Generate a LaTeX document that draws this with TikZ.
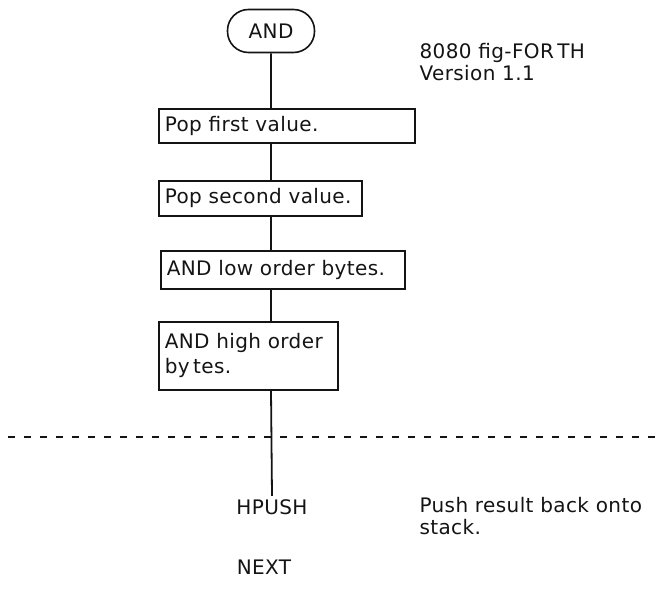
\documentclass[tikz,border=0pt]{standalone}
\usepackage{fontspec}
\setmainfont{DejaVu Sans}[LetterSpace=2]
\definecolor{chartInk}{RGB}{20,20,20}
\tikzset{
  stepbox/.style={draw=chartInk,line width=1.6pt,anchor=north west,align=left,
    inner xsep=6pt,inner ysep=0pt,text=chartInk,font=\fontsize{20}{25}\selectfont},
  terminal/.style={draw=chartInk,line width=1.6pt,rounded corners=21pt,
    minimum width=87pt,minimum height=43pt,text=chartInk,font=\fontsize{20}{25}\selectfont},
  label/.style={text=chartInk,font=\fontsize{20}{22}\selectfont},
  flow/.style={draw=chartInk,line width=1.8pt}
}
\begin{document}
\begin{tikzpicture}[x=1pt,y=-1pt]
  \useasboundingbox (0,0) rectangle (660,588);
  % entry
  \node[terminal] (and) at (271,31) {AND};
  \node[label,anchor=west,align=left] (title) at (416,62) {8080 fig-FOR\,TH\\Version 1.1};
  % steps
  \node[stepbox,text width=244pt,minimum height=34pt] (first) at (158,108) {Pop first value.};
  \node[stepbox,text width=191pt,minimum height=35pt] (second) at (158,180) {Pop second value.};
  \node[stepbox,text width=232pt,minimum height=38pt] (low) at (160,250) {AND low order bytes.};
  \node[stepbox,text width=167pt,minimum height=68pt] (high) at (158,321) {AND high order\\by\,tes.};
  % exit
  \node[label] (hpush) at (272,507) {HPUSH};
  \node[label,anchor=west,align=left] (note) at (416,516) {Push result back onto\\stack.};
  \node[label] (next) at (264,567) {NEXT};
  \path[flow] (and) -- (and |- first.north)
    (first.south -| and) -- (and |- second.north)
    (second.south -| and) -- (and |- low.north)
    (low.south -| and) -- (and |- high.north)
    (high.south -| and) -- (hpush.north);
  \coordinate (cutL) at (8,437);
  \coordinate (cutR) at (660,437);
  \draw[chartInk,line width=1.5pt,dash pattern=on 7pt off 9pt] (cutL) -- (cutR);
\end{tikzpicture}
\end{document}
